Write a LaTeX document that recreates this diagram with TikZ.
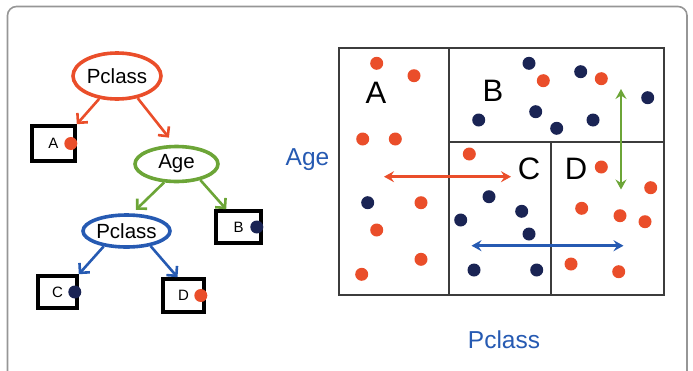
\documentclass[tikz,border=0pt]{standalone}
\usepackage{fontspec}
\setmainfont{Liberation Sans}
\usetikzlibrary{arrows.meta,shapes.geometric,calc}
\definecolor{corange}{RGB}{234,78,42}
\definecolor{cgreen}{RGB}{108,165,55}
\definecolor{cblue}{RGB}{38,90,178}
\definecolor{cnavy}{RGB}{26,36,84}
\definecolor{cframe}{RGB}{150,150,150}
\definecolor{cgrid}{RGB}{60,60,60}
\tikzset{
  split/.style={ellipse, line width=3.6pt, inner sep=0pt, font=\fontsize{20.5}{22}\selectfont},
  leafbox/.style={rectangle, draw=black, line width=3.6pt, inner sep=0pt, font=\fontsize{15}{16}\selectfont},
  odot/.style={circle, fill=corange, minimum size=13pt, inner sep=0pt},
  ndot/.style={circle, fill=cnavy, minimum size=13pt, inner sep=0pt},
  treearrow/.style={line width=2.6pt, -{Straight Barb[length=7pt,width=14pt,line width=2.6pt]}},
  plotarrow/.style={line width=2.6pt, {Stealth[length=10pt,width=11pt,inset=3.5pt]}-{Stealth[length=10pt,width=11pt,inset=3.5pt]}},
  region/.style={font=\fontsize{31}{33}\selectfont},
  axis/.style={text=cblue, font=\fontsize{24.5}{26}\selectfont}
}
\begin{document}
\begin{tikzpicture}[x=1pt,y=-1pt]
\useasboundingbox (0,0) rectangle (693,370);
\begin{scope}
\clip (0,0) rectangle (693,370);
\draw[cframe, line width=1.6pt, rounded corners=9pt] (7.5,6.5) rectangle (687,390);
\end{scope}

% ---------------- tree ----------------
\node[split, draw=corange, minimum width=88pt, minimum height=46pt] (root) at (117,76) {Pclass};
\node[split, draw=cgreen, minimum width=83pt, minimum height=35pt] (age) at (176.5,164) {Age};
\node[split, draw=cblue, minimum width=87pt, minimum height=32pt] (p2) at (126.5,231) {Pclass};

\node[leafbox, minimum width=43pt, minimum height=35pt] (boxA) at (53.5,143.5) {A\hspace{8pt}};
\node[leafbox, minimum width=45pt, minimum height=32pt] (boxB) at (238.5,227) {B\hspace{8pt}};
\node[leafbox, minimum width=39pt, minimum height=32pt] (boxC) at (57.5,292) {C\hspace{8pt}};
\node[leafbox, minimum width=41pt, minimum height=33pt] (boxD) at (183.5,295.5) {D\hspace{8pt}};

\node[odot] (dA) at ($(boxA.east)+(-6,0)$) {};
\node[ndot] (dB) at ($(boxB.east)+(-6,0)$) {};
\node[ndot] (dC) at ($(boxC.east)+(-4,0)$) {};
\node[odot] (dD) at ($(boxD.east)+(-5,0)$) {};

\draw[treearrow, corange] (root.232) -- (boxA.north east);
\draw[treearrow, corange, shorten >=9pt] (root.313) -- ($(age.north)+(-2,0)$);
\draw[treearrow, cgreen, shorten >=5pt] (age.236) -- (p2.72);
\draw[treearrow, cgreen] (age.326) -- ($(boxB.north west)+(12,0)$);
\draw[treearrow, cblue] (p2.214) -- (boxC.north east);
\draw[treearrow, cblue] (p2.328) -- ($(boxD.north)+(-6,0)$);

% ---------------- plot ----------------
\node[draw=cgrid, line width=1.4pt, rectangle, minimum width=325pt, minimum height=247pt, inner sep=0pt] (plot) at (501.5,171.5) {};
\coordinate (v1t) at (449,48);
\coordinate (v1b) at (449,295);
\coordinate (hl) at (449,142);
\coordinate (hr) at (664,142);
\coordinate (v2b) at (551,295);
\coordinate (v2t) at (551,142);
\draw[cgrid, line width=1.1pt] (v1t) -- (v1b);
\draw[cgrid, line width=1.1pt] (hl) -- (hr);
\draw[cgrid, line width=1.1pt] (v2t) -- (v2b);

\node[region] (lA) at (376,93) {A};
\node[region] (lB) at (493,91) {B};
\node[region] (lC) at (529,169) {C};
\node[region] (lD) at (576,169) {D};

% orange dots
\foreach \x/\y [count=\i] in {376.7/63.3, 414/75.7, 362.7/139, 395.3/139, 421/202.7, 376.7/230, 421/259.3, 361.7/274.3,
  543.3/80.7, 601.3/78.7, 469.3/154,
  601.3/167, 650.7/187.7, 581.7/208.3, 620/215.7, 645/221.7, 571/264, 618.7/271.7}
  \node[odot] (o\i) at (\x,\y) {};
% navy dots
\foreach \x/\y [count=\i] in {367.7/202.7,
  529/63.3, 580.7/71.7, 647.7/97.7, 478.7/120, 535.7/111.7, 556.7/128.3, 593/120,
  489/196.7, 460.7/220, 521.7/211.3, 529/234, 474/270, 536.7/270}
  \node[ndot] (n\i) at (\x,\y) {};

\coordinate (ra1) at (384,176.7);
\coordinate (ra2) at (511,176.7);
\coordinate (ba1) at (471.5,245.7);
\coordinate (ba2) at (623.5,245.7);
\coordinate (ga1) at (621,89);
\coordinate (ga2) at (621,189.5);
\draw[plotarrow, corange] (ra1) -- (ra2);
\draw[plotarrow, cblue] (ba1) -- (ba2);
\draw[plotarrow, cgreen] (ga1) -- (ga2);

\node[axis] (ylab) at (307.5,160) {Age};
\node[axis] (xlab) at (504,340) {Pclass};
\end{tikzpicture}
\end{document}
